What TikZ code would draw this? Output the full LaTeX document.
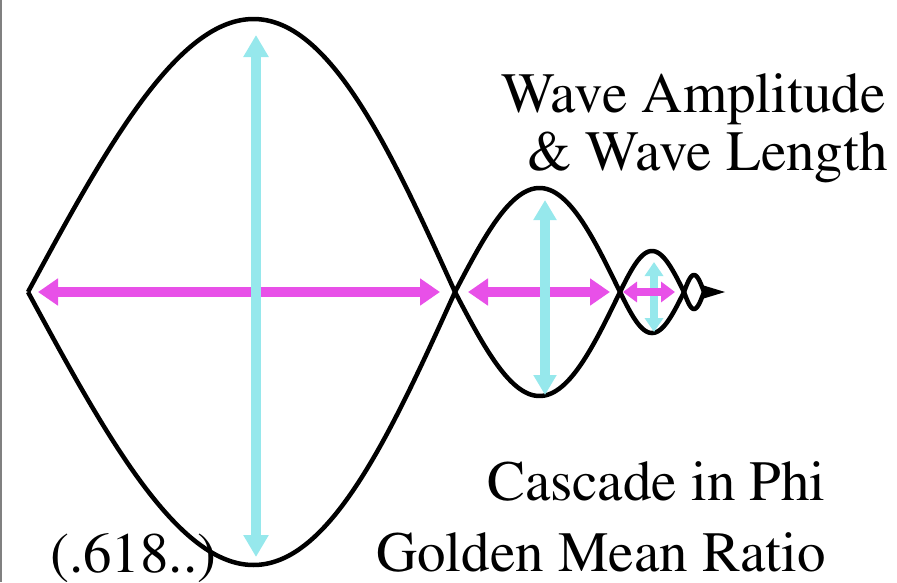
\documentclass[tikz,border=0pt]{standalone}
\usepackage[T1]{fontenc}
\usepackage{mathptmx}
\usetikzlibrary{arrows.meta}
\definecolor{ampcyan}{RGB}{150,232,236}
\definecolor{lenpink}{RGB}{232,80,232}
\tikzset{
  lobe/.style={line width=4.5pt,line join=round},
  amp/.style={draw=ampcyan,line width=#1},
  len/.style={draw=lenpink,line width=#1},
  txt/.style={font=\rmfamily\fontsize{57}{60}\selectfont,inner sep=0pt}
}
% one wave lobe: start x, length, amplitude, skew
\newcommand{\wavelobe}[4]{%
  \draw[lobe] plot[domain=0:180,samples=90,smooth]
    ({#1+(#2/180)*\x+#4*sin(\x)},{292-#3*sin(\x)});
  \draw[lobe] plot[domain=0:180,samples=90,smooth]
    ({#1+(#2/180)*\x+#4*sin(\x)},{292+#3*sin(\x)});}
\begin{document}
\begin{tikzpicture}[x=1pt,y=-1pt]
  \useasboundingbox (0,0) rectangle (897,582);
  \draw[gray,line width=2pt] (1,0) -- (1,582);
  % lobes
  \wavelobe{28}{427}{273}{12}
  \wavelobe{455}{165}{104}{2}
  \wavelobe{620}{64}{41}{0}
  \wavelobe{684}{20}{17}{0}
  \fill (702,285) -- (725,292) -- (702,299) -- cycle;
  % amplitude and length arrows
  \coordinate (a1t) at (256,35);  \coordinate (a1b) at (256,557);
  \coordinate (l1l) at (38,292);  \coordinate (l1r) at (440,292);
  \coordinate (a2t) at (545,200); \coordinate (a2b) at (545,395);
  \coordinate (l2l) at (468,292); \coordinate (l2r) at (610,292);
  \coordinate (a3t) at (654,262); \coordinate (a3b) at (654,332);
  \coordinate (l3l) at (623,292); \coordinate (l3r) at (675,292);
  \draw[len=10pt,{Triangle[length=20pt,width=26pt]}-{Triangle[length=20pt,width=26pt]}] (l1l) -- (l1r);
  \draw[amp=10pt,{Triangle[length=22pt,width=24pt]}-{Triangle[length=22pt,width=24pt]}] (a1t) -- (a1b);
  \draw[len=10pt,{Triangle[length=20pt,width=26pt]}-{Triangle[length=20pt,width=26pt]}] (l2l) -- (l2r);
  \draw[amp=10pt,{Triangle[length=20pt,width=22pt]}-{Triangle[length=20pt,width=22pt]}] (a2t) -- (a2b);
  \draw[amp=8pt,{Triangle[length=14pt,width=18pt]}-{Triangle[length=14pt,width=18pt]}] (a3t) -- (a3b);
  \draw[len=8pt,{Triangle[length=14pt,width=20pt]}-{Triangle[length=14pt,width=20pt]}] (l3l) -- (l3r);
  % labels
  \node[txt,anchor=base east] (amplitude) at (886,112) {Wave Amplitude};
  \node[txt,anchor=base east] (length) at (888,170) {\& Wave Length};
  \node[txt,anchor=base east] (cascade) at (826,500) {Cascade in Phi};
  \node[txt,anchor=base east] (golden) at (826,571) {Golden Mean Ratio};
  \node[txt,anchor=base west] (ratio) at (50,572) {(.618..)};
\end{tikzpicture}
\end{document}
